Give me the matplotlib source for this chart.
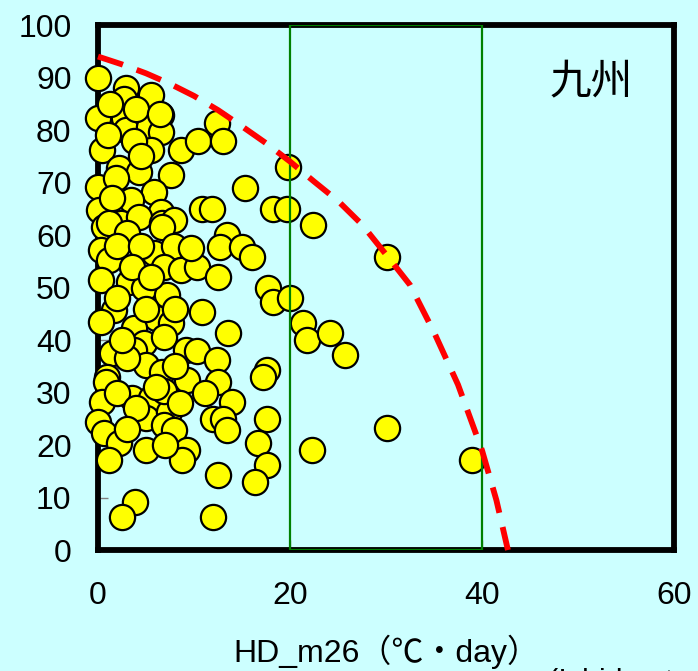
import matplotlib
matplotlib.use("Agg")
import matplotlib.pyplot as plt
from matplotlib.patches import Rectangle

plt.rcParams["font.family"] = ["Liberation Sans", "Noto Sans CJK JP", "DejaVu Sans"]

# heat dose (HD_m26) vs. value per site
hd_values = [
    0, 2.9, 2.7, 5.5, 6.6, 0, 2.7, 2.9, 5.3, 6.6, 0.4, 5.5, 8.6, 10.4,
    2.2, 4.3, 7.6, 0, 1.9, 5.8, 3.4, 0.1, 6.6, 2.4, 4.3, 6.7, 7.9, 0.6,
    1.1, 3, 6.7, 0.3, 1.1, 5.8, 7.9, 6.9, 8.6, 10.3, 9.7, 0.3, 3.2, 4.8,
    7.2, 1.7, 0.3, 6, 3.7, 7.6, 4.8, 6.9, 1.5, 3.7, 5, 6.7, 0.9, 3, 9.2,
    9.3, 0.8, 0.4, 3.5, 5.5, 5, 7.4, 6.9, 7.9, 0, 0.6, 2.2, 5, 1.1, 9.3,
    8.8, 3.9, 2.5, 6.9, 6,
    1.2, 4, 3.8, 1, 4.5, 1.5, 2, 4.5, 3.5, 5.5, 2, 5, 8, 2.5, 8, 2, 4,
    8.5, 3, 7,
    6.5, 12.4, 13, 19.8, 15.3, 10.8, 11.9, 18.2, 19.7, 22.4, 13.4, 12.7,
    15, 16, 12.5, 17.7, 18.2, 20, 10.8, 21.4, 21.8, 24.2, 25.7, 13.5,
    10.3, 12.4, 17.6, 17.2, 12.5, 11.1, 14, 12, 13, 13.4, 17.6, 16.7,
    17.6, 16.4, 12.5, 12, 22.3, 30.1, 30.1, 39,
]
rate_values = [
    90, 88, 86, 86.7, 82.9, 82.3, 82.3, 80, 80.6, 79.6, 76.2, 76.2, 76.2, 78,
    72.8, 72, 71.4, 69.2, 70.8, 68.2, 66.7, 64.8, 64.4, 62.3, 63.4, 62.3, 62.9, 61.5,
    62.3, 60.4, 61.5, 57.1, 55.2, 56.6, 58, 54, 53.3, 54, 57.5, 51.4, 51, 49.9,
    48.6, 45.7, 43.4, 44.2, 42.3, 43.2, 39.4, 40.6, 37.5, 38.1, 35.2, 33.9, 33, 36.6, 38.1,
    32.4, 32, 28.2, 29, 29, 25.1, 26.3, 23.8, 22.9, 24.4, 22.3, 20.4, 19, 17.1, 19,
    17.1, 9.1, 6.3, 30.2, 31,
    85, 84, 78, 79, 75, 67, 58, 58, 54, 52, 48, 46, 46, 40, 35, 30, 27,
    28, 23, 20,
    83, 81.3, 78, 73, 69, 65, 65, 65, 65, 62, 60, 57.7,
    57.7, 55.8, 52, 50, 47.2, 48, 45.3, 43.2, 40, 41.3, 37.1, 41.3,
    38, 36.2, 34.3, 33, 32, 30, 28.2, 25, 25, 22.8, 25, 20.4,
    16.2, 13, 14.3, 6.3, 19, 55.8, 23.2, 17.1,
]

# upper boundary line
bound_x = [0, 2.5, 5, 7.5, 10, 12.5, 15, 17.5, 20, 22.5, 25, 27.5, 30, 32.5, 35, 37.5, 40, 41.5, 42.7]
bound_y = [94, 92.5, 90.8, 88.8, 86.5, 83.8, 80.7, 77.5, 74, 70.2, 66.5, 62, 56.3, 50.5, 41.5, 31.5, 19, 9.5, 0]

x_ticks = [0, 20, 40, 60]
y_ticks = list(range(0, 101, 10))
bg = "#ccffff"

fig = plt.figure(figsize=(6.98, 6.71), dpi=100, facecolor=bg)
ax = fig.add_axes([0.1404, 0.1803, 0.8252, 0.7824], facecolor=bg)

ax.scatter(hd_values, rate_values, s=330, c="#ffff00", edgecolors="black",
           linewidths=1.6, zorder=3, clip_on=False)

ax.add_patch(Rectangle((20, 0), 20, 100, fill=False, edgecolor="#008000",
                       linewidth=1.6, zorder=4))
ax.plot(bound_x, bound_y, color="red", linewidth=4.2,
        linestyle=(0, (4.5, 2.5)), zorder=5, clip_on=False)

ax.set_xlim(0, 60)
ax.set_ylim(0, 100)
ax.set_xticks(x_ticks)
ax.set_yticks(y_ticks)
ax.tick_params(direction="in", length=7, width=1, color="gray",
               labelsize=23)
ax.tick_params(axis="y", pad=19)
ax.tick_params(axis="x", pad=22)
for sp in ax.spines.values():
    sp.set_linewidth(4.2)
    sp.set_color("black")

ax.set_xlabel("HD_m26（℃・day）", fontsize=23, labelpad=17)
ax.text(51.4, 89, "九州", fontsize=30, ha="center", va="center", zorder=6,
        family=["Noto Sans CJK JP"])

fig.text(0.785, 0.004, "(Ishida et al.)", fontsize=22, va="top", ha="left")

fig.savefig("out.png", dpi=100, facecolor=bg)
